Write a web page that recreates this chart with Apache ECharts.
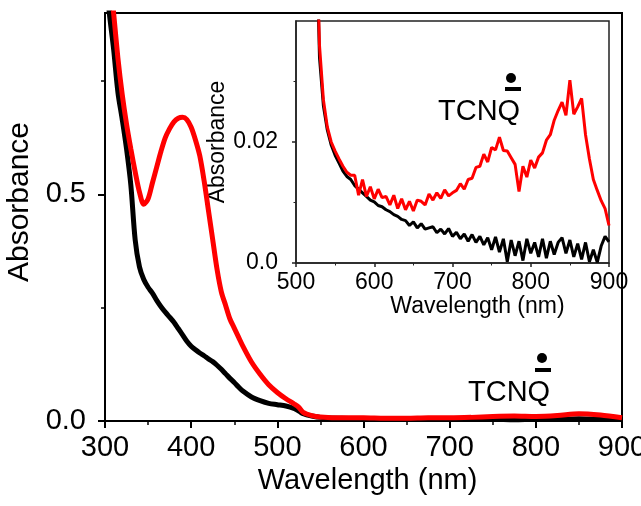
<!DOCTYPE html>
<html><head><meta charset="utf-8">
<script src="https://cdn.jsdelivr.net/npm/echarts@6/dist/echarts.min.js"></script>
<style>html,body{margin:0;padding:0;background:#fff}#c{width:641px;height:506px}</style>
</head><body><div id="c"></div>
<script>
// ---- main spectrum (300-900 nm) ----
const mainWl = [300,305,310,315,320,325,330,335,340,345,350,355,360,365,370,375,380,385,390,395,400,405,410,415,420,425,430,435,440,445,450,455,460,470,480,490,500,510,520,525,530,540,550,575,600,625,650,675,700,725,750,775,800,825,850,875,900];
const mainBlack = [1.00,0.90,0.82,0.725,0.665,0.60,0.52,0.40,0.34,0.312,0.295,0.282,0.266,0.252,0.240,0.229,0.218,0.204,0.190,0.176,0.165,0.157,0.150,0.144,0.137,0.131,0.123,0.114,0.104,0.094,0.085,0.075,0.066,0.053,0.045,0.039,0.036,0.033,0.027,0.022,0.016,0.011,0.008,0.006,0.005,0.005,0.005,0.004,0.004,0.004,0.004,0.003,0.004,0.004,0.005,0.004,0.004];
const mainRed = [1.08,0.99,0.90,0.80,0.72,0.655,0.60,0.55,0.505,0.478,0.49,0.525,0.56,0.595,0.625,0.645,0.66,0.668,0.670,0.665,0.648,0.62,0.585,0.53,0.465,0.40,0.335,0.285,0.255,0.225,0.205,0.185,0.165,0.13,0.103,0.080,0.063,0.049,0.037,0.030,0.019,0.012,0.009,0.007,0.007,0.006,0.006,0.007,0.007,0.008,0.010,0.011,0.010,0.012,0.016,0.013,0.007];
const mainXTicks = [300,400,500,600,700,800,900];
const mainYTicks = [0,0.5];
const mainYMinor = [0.25,0.75];

// ---- inset spectrum (500-900 nm) ----
const insetWl = [525,530,535,540,545,550,555,560,565,570,575,580,585,590,595,600,605,610,615,620,625,630,635,640,645,650,655,660,665,670,675,680,685,690,695,700,705,710,715,720,725,730,735,740,745,750,755,760,765,770,775,780,785,790,795,800,805,810,815,820,825,830,835,840,845,850,855,860,865,870,875,880,885,890,895,900];
const insetBlack = [0.060,0.034,0.026,0.022,0.0195,0.0178,0.0165,0.0152,0.0143,0.0138,
0.0128,0.0122,0.0116,0.0110,0.0104,0.0101,0.0095,0.0093,0.0088,0.0085,
0.0080,0.0077,0.0072,0.0070,0.0062,0.0068,0.0058,0.0065,0.0056,0.0058,
0.0060,0.0050,0.0056,0.0048,0.0057,0.0044,0.0051,0.0040,0.0048,0.0036,
0.0047,0.0034,0.0044,0.0030,0.0042,0.0022,0.0043,0.0018,0.0040,0.0002,
0.0038,0.0012,0.0036,0.0004,0.0040,0.0016,0.0034,0.0010,0.0040,0.0008,
0.0036,0.0014,0.0034,0.0042,0.0016,0.0038,0.0010,0.0032,0.0006,0.0034,
0.0002,0.0022,0.0001,0.0028,0.0044,0.0035];
const insetRed = [0.062,0.036,0.027,0.0225,0.020,0.0185,0.0172,0.0160,0.0150,0.0145,
0.0145,0.0112,0.0138,0.0110,0.0126,0.0106,0.0122,0.0108,0.0110,0.0096,
0.0112,0.0090,0.0106,0.0088,0.0102,0.0086,0.0104,0.0102,0.0096,0.0114,
0.0104,0.0116,0.0107,0.0121,0.0111,0.0116,0.0120,0.0131,0.0122,0.0138,
0.0140,0.0158,0.0160,0.0180,0.0167,0.0191,0.0187,0.0208,0.0186,0.0185,
0.0174,0.0163,0.0118,0.0160,0.0142,0.0170,0.0157,0.0175,0.0182,0.0203,
0.0212,0.0236,0.0252,0.0266,0.0244,0.0302,0.0246,0.0258,0.0272,0.0212,
0.0172,0.0138,0.0120,0.0103,0.0090,0.0062];
const insetYTicks = [0,0.02];
const insetYMinor = [0.01,0.03];

const FONT = '"Liberation Sans", Arial, sans-serif';
const pairs = (xs, ys) => xs.map((x, i) => [x, ys[i]]);

const chart = echarts.init(document.getElementById('c'), null, {renderer: 'canvas'});
chart.setOption({
  animation: false,
  backgroundColor: '#fff',
  textStyle: {fontFamily: FONT, color: '#000'},
  grid: [
    {left: 105, top: 13, width: 517, height: 408, show: true, borderColor: '#000', borderWidth: 2,
     backgroundColor: 'transparent', containLabel: false, outerBoundsMode: 'none'},
    {left: 296, top: 21, width: 313, height: 242, show: true, borderColor: '#222', borderWidth: 1.5,
     backgroundColor: '#fff', containLabel: false, outerBoundsMode: 'none'}
  ],
  xAxis: [
    {gridIndex: 0, type: 'value', min: 300, max: 900, interval: 100,
     axisLine: {lineStyle: {color: '#000', width: 2}},
     axisTick: {length: 7, lineStyle: {color: '#000', width: 2}},
     minorTick: {show: true, splitNumber: 2, length: 4, lineStyle: {color: '#000', width: 1.5}},
     splitLine: {show: false},
     axisLabel: {fontSize: 29, color: '#000', margin: 12, fontFamily: FONT,
       formatter: v => mainXTicks.includes(v) ? String(v) : ''},
     name: 'Wavelength (nm)', nameLocation: 'middle', nameGap: 44,
     nameTextStyle: {fontSize: 29, color: '#000', fontFamily: FONT, padding: [0, 0, 0, 8]}},
    {gridIndex: 1, type: 'value', min: 500, max: 900, interval: 100,
     axisLine: {lineStyle: {color: '#222', width: 1.5}},
     axisTick: {length: 4, lineStyle: {color: '#222', width: 1.5}},
     minorTick: {show: true, splitNumber: 2, length: 2.5, lineStyle: {color: '#222', width: 1}},
     splitLine: {show: false},
     axisLabel: {fontSize: 23, color: '#000', margin: 8, fontFamily: FONT},
     name: 'Wavelength (nm)', nameLocation: 'middle', nameGap: 30,
     nameTextStyle: {fontSize: 23, color: '#000', fontFamily: FONT, padding: [0, 0, 0, 50]}}
  ],
  yAxis: [
    {gridIndex: 0, type: 'value', min: 0, max: 0.9, interval: 0.5,
     axisLine: {show: true, lineStyle: {color: '#000', width: 2}},
     axisTick: {show: true, length: 7, customValues: mainYTicks, lineStyle: {color: '#000', width: 2}},
     splitLine: {show: false},
     axisLabel: {fontSize: 29, color: '#000', margin: 19, fontFamily: FONT, customValues: mainYTicks,
       formatter: v => v.toFixed(1)},
     name: 'Absorbance', nameLocation: 'middle', nameGap: 60,
     nameTextStyle: {fontSize: 30, color: '#000', fontFamily: FONT, padding: [0, 0, 0, 30]}},
    {gridIndex: 0, type: 'value', min: 0, max: 0.9, position: 'left',
     axisLine: {show: false},
     axisTick: {show: true, length: 4, customValues: mainYMinor, lineStyle: {color: '#000', width: 1.5}},
     axisLabel: {show: false}, splitLine: {show: false}},
    {gridIndex: 1, type: 'value', min: 0, max: 0.04, interval: 0.02,
     axisLine: {show: true, lineStyle: {color: '#222', width: 1.5}},
     axisTick: {show: true, length: 4, customValues: insetYTicks, lineStyle: {color: '#222', width: 1.5}},
     splitLine: {show: false},
     axisLabel: {fontSize: 23, color: '#000', margin: 18, fontFamily: FONT, customValues: insetYTicks,
       formatter: v => (Math.abs(v) < 1e-9 ? '0.0' : v.toFixed(2))},
     name: 'Absorbance', nameLocation: 'middle', nameGap: 61,
     nameTextStyle: {fontSize: 23, color: '#000', fontFamily: FONT}},
    {gridIndex: 1, type: 'value', min: 0, max: 0.04, position: 'left',
     axisLine: {show: false},
     axisTick: {show: true, length: 2.5, customValues: insetYMinor, lineStyle: {color: '#222', width: 1}},
     axisLabel: {show: false}, splitLine: {show: false}}
  ],
  series: [
    {type: 'line', xAxisIndex: 0, yAxisIndex: 0, data: pairs(mainWl, mainBlack), showSymbol: false, smooth: 0.3,
     lineStyle: {color: '#000', width: 5}, clip: true, z: 3},
    {type: 'line', xAxisIndex: 0, yAxisIndex: 0, data: pairs(mainWl, mainRed), showSymbol: false, smooth: 0.3,
     lineStyle: {color: '#ff0000', width: 5}, clip: true, z: 4},
    {type: 'line', xAxisIndex: 1, yAxisIndex: 2, data: pairs(insetWl, insetBlack), showSymbol: false,
     lineStyle: {color: '#000', width: 3}, clip: true, z: 5},
    {type: 'line', xAxisIndex: 1, yAxisIndex: 2, data: pairs(insetWl, insetRed), showSymbol: false,
     lineStyle: {color: '#ff0000', width: 3}, clip: true, z: 6}
  ],
  graphic: [
    {type: 'text', left: 468, top: 378, z: 100, style: {text: 'TCNQ', font: '29px ' + FONT, fill: '#000'}},
    {type: 'circle', shape: {cx: 542, cy: 358, r: 5}, style: {fill: '#000'}, z: 100},
    {type: 'rect', shape: {x: 535, y: 368, width: 16, height: 4}, style: {fill: '#000'}, z: 100},
    {type: 'text', left: 438, top: 97, z: 100, style: {text: 'TCNQ', font: '29px ' + FONT, fill: '#000'}},
    {type: 'circle', shape: {cx: 511, cy: 78, r: 5}, style: {fill: '#000'}, z: 100},
    {type: 'rect', shape: {x: 505, y: 87, width: 16, height: 4}, style: {fill: '#000'}, z: 100}
  ]
});
</script></body></html>
